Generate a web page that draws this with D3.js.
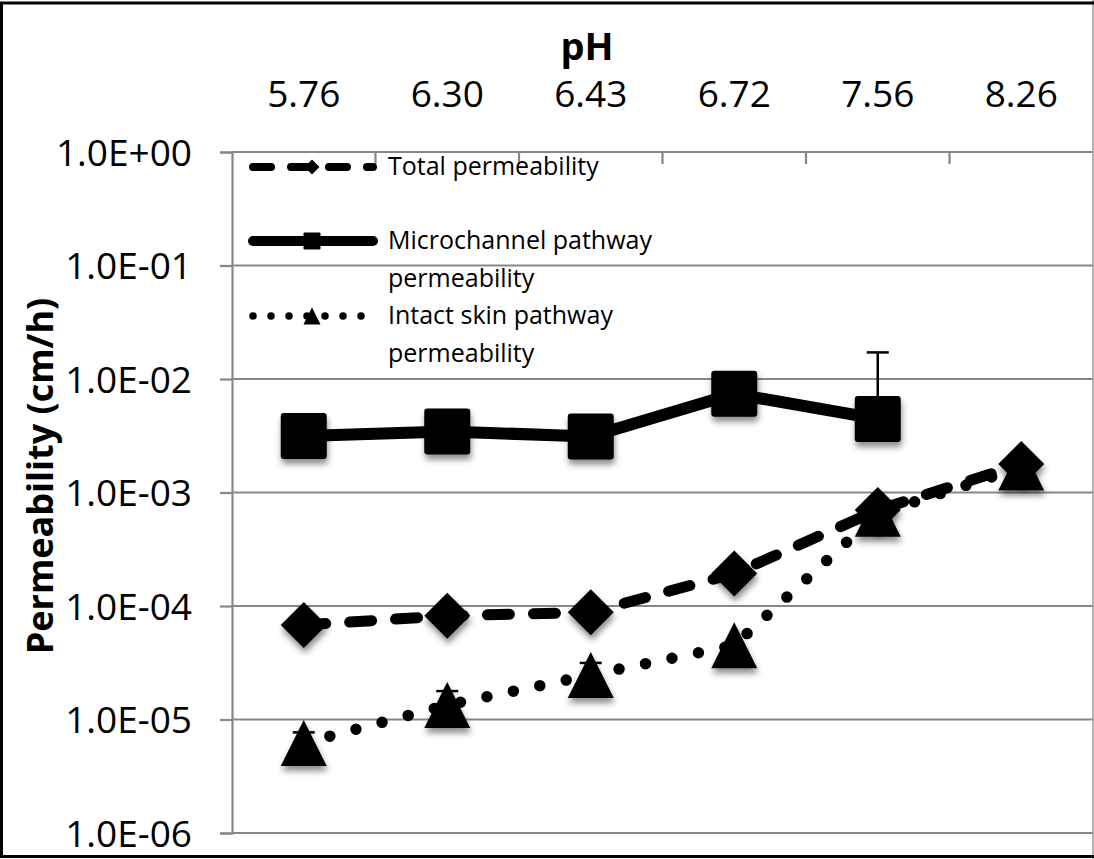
<!DOCTYPE html>
<html>
<head>
<meta charset="utf-8">
<script src="https://cdn.jsdelivr.net/npm/d3@7"></script>
<style>
  html, body { margin: 0; padding: 0; background: #fff; }
  svg { display: block; }
  text { font-family: "Open Sans", "Noto Sans", sans-serif; fill: #000; }
</style>
</head>
<body>
<svg id="chart" width="1094" height="859"></svg>
<script>
// pH categories along the top axis
const phLabels = ["5.76", "6.30", "6.43", "6.72", "7.56", "8.26"];

// Permeability (cm/h) per series
const totalPerm  = [6.8e-5, 8.2e-5, 8.8e-5, 1.93e-4, 7.0e-4, 1.78e-3];
const microPerm  = [3.15e-3, 3.45e-3, 3.11e-3, 7.4e-3, 4.45e-3, null];
const intactPerm = [6.2e-6, 1.34e-5, 2.47e-5, 4.5e-5, 6.5e-4, 1.66e-3];

// Upper error (cm/h)
const microErr  = [3.0e-4, 3.0e-4, 3.0e-4, 6.0e-4, 1.27e-2, null];
const intactErr = [1.5e-6, 4.4e-6, 6.8e-6, null, null, null];

// Log-axis tick labels
const yTickValues = [1e0, 1e-1, 1e-2, 1e-3, 1e-4, 1e-5, 1e-6];
const yTickLabels = ["1.0E+00", "1.0E-01", "1.0E-02", "1.0E-03", "1.0E-04", "1.0E-05", "1.0E-06"];

const seriesNames = ["Total permeability", "Microchannel pathway permeability", "Intact skin pathway permeability"];

const W = 1094, H = 859;
const plot = { left: 232, right: 1093, top: 152, bottom: 833 };

const svg = d3.select("#chart");

// soft drop shadow used under the markers
const defs = svg.append("defs");
const f = defs.append("filter").attr("id", "shadow")
  .attr("x", "-50%").attr("y", "-50%").attr("width", "200%").attr("height", "200%");
f.append("feDropShadow").attr("dx", 1).attr("dy", 5).attr("stdDeviation", 3)
  .attr("flood-color", "#000").attr("flood-opacity", 0.45);

const x = d3.scaleBand().domain(phLabels).range([plot.left, plot.right]).padding(0);
const y = d3.scaleLog().domain([1e-6, 1]).range([plot.bottom, plot.top]);
const cx = d => x(d) + x.bandwidth() / 2;

const gridColor = "#878787";

// horizontal gridlines
svg.append("g").selectAll("line").data(yTickValues).join("line")
  .attr("x1", plot.left).attr("x2", plot.right)
  .attr("y1", d => y(d)).attr("y2", d => y(d))
  .attr("stroke", gridColor).attr("stroke-width", 2.2);

// left value axis
const yAxis = d3.axisLeft(y).tickValues(yTickValues)
  .tickFormat((d, i) => yTickLabels[i]).tickSize(12).tickPadding(28);
const gy = svg.append("g").attr("transform", `translate(${plot.left},0)`).call(yAxis);
gy.select(".domain").attr("stroke", gridColor).attr("stroke-width", 2.2);
gy.selectAll(".tick line").attr("stroke", gridColor).attr("stroke-width", 2.2);
gy.selectAll(".tick text").style("font-size", "37px").attr("dy", "0.36em")
  .style("font-family", "'Open Sans', sans-serif").attr("fill", "#000");

// top category axis: labels centred on bands, ticks on band boundaries
const boundaries = phLabels.slice(1).map(d => x(d));
svg.append("g").selectAll("line").data(boundaries).join("line")
  .attr("x1", d => d).attr("x2", d => d)
  .attr("y1", plot.top).attr("y2", plot.top + 12)
  .attr("stroke", gridColor).attr("stroke-width", 2.2);
svg.append("g").selectAll("text").data(phLabels).join("text")
  .attr("x", d => cx(d)).attr("y", 107)
  .attr("text-anchor", "middle").style("font-size", "37px")
  .text(d => d);

// axis titles
svg.append("text").attr("x", 587).attr("y", 60).attr("text-anchor", "middle")
  .style("font-size", "38px").style("font-weight", "bold").text("pH");
svg.append("text").attr("transform", "translate(53,476) rotate(-90)")
  .attr("text-anchor", "middle").style("font-size", "36px").style("font-weight", "bold")
  .text("Permeability (cm/h)");

// marker shapes
const S = 46;
const shapes = {
  diamond: s => `M0,${-s/2}L${s/2},0L0,${s/2}L${-s/2},0Z`,
  square: s => { const h = s/2, r = s*0.07;
    return `M${-h+r},${-h}H${h-r}Q${h},${-h} ${h},${-h+r}V${h-r}Q${h},${h} ${h-r},${h}H${-h+r}Q${-h},${h} ${-h},${h-r}V${-h+r}Q${-h},${-h} ${-h+r},${-h}Z`; },
  triangle: s => `M0,${-s/2}L${s/2},${s/2}L${-s/2},${s/2}Z`
};

const series = [
  { name: seriesNames[0], values: totalPerm, err: null, dash: "22 24", width: 11, shape: "diamond" },
  { name: seriesNames[1], values: microPerm, err: microErr, dash: null, width: 12, shape: "square" },
  { name: seriesNames[2], values: intactPerm, err: intactErr, dash: "0 27", width: 11.5, shape: "triangle" }
];

const line = d3.line()
  .defined(d => d.v != null)
  .x(d => cx(d.c)).y(d => y(d.v));

series.forEach(s => {
  const pts = phLabels.map((c, i) => ({ c, v: s.values[i], e: s.err ? s.err[i] : null }));
  const g = svg.append("g");
  g.append("path").datum(pts).attr("d", line)
    .attr("fill", "none").attr("stroke", "#000").attr("stroke-width", s.width)
    .attr("stroke-linecap", "round").attr("stroke-linejoin", "round")
    .attr("stroke-dasharray", s.dash);
  // upper error bars
  const eb = pts.filter(d => d.v != null && d.e != null);
  g.append("g").selectAll("line").data(eb).join("line")
    .attr("x1", d => cx(d.c)).attr("x2", d => cx(d.c))
    .attr("y1", d => y(d.v)).attr("y2", d => y(d.v + d.e))
    .attr("stroke", "#000").attr("stroke-width", 2.5);
  g.append("g").selectAll("line").data(eb).join("line")
    .attr("x1", d => cx(d.c) - 11).attr("x2", d => cx(d.c) + 11)
    .attr("y1", d => y(d.v + d.e)).attr("y2", d => y(d.v + d.e))
    .attr("stroke", "#000").attr("stroke-width", 2.5);
  g.append("g").selectAll("path").data(pts.filter(d => d.v != null)).join("path")
    .attr("d", shapes[s.shape](S))
    .attr("transform", d => `translate(${cx(d.c)},${y(d.v)})`)
    .attr("fill", "#000").attr("filter", "url(#shadow)");
});

// legend
const legendRows = [
  { y: 167, lines: ["Total permeability"], dash: "18 20", width: 8, shape: "diamond", ms: 15 },
  { y: 241, lines: ["Microchannel pathway", "permeability"], dash: null, width: 10, shape: "square", ms: 17 },
  { y: 316, lines: ["Intact skin pathway", "permeability"], dash: "0 18", width: 7.5, shape: "triangle", ms: 17 }
];
const lg = svg.append("g");
legendRows.forEach(r => {
  lg.append("line").attr("x1", 253).attr("x2", 373).attr("y1", r.y).attr("y2", r.y)
    .attr("stroke", "#000").attr("stroke-width", r.width).attr("stroke-linecap", "round")
    .attr("stroke-dasharray", r.dash);
  lg.append("path").attr("d", shapes[r.shape](r.ms))
    .attr("transform", `translate(312,${r.y})`).attr("fill", "#000");
  const t = lg.append("text").attr("x", 388).attr("y", r.y + 8).style("font-size", "25px");
  r.lines.forEach((l, i) => t.append("tspan").attr("x", 388).attr("dy", i === 0 ? 0 : 38).text(l));
});

// chart frame
svg.append("line").attr("x1", W - 1).attr("x2", W - 1).attr("y1", 0).attr("y2", H)
  .attr("stroke", "#9a9a9a").attr("stroke-width", 1.5);
svg.append("path").attr("d", `M${W},3H1.5V856.5H${W}`)
  .attr("fill", "none").attr("stroke", "#000").attr("stroke-width", 3);
</script>
</body>
</html>
